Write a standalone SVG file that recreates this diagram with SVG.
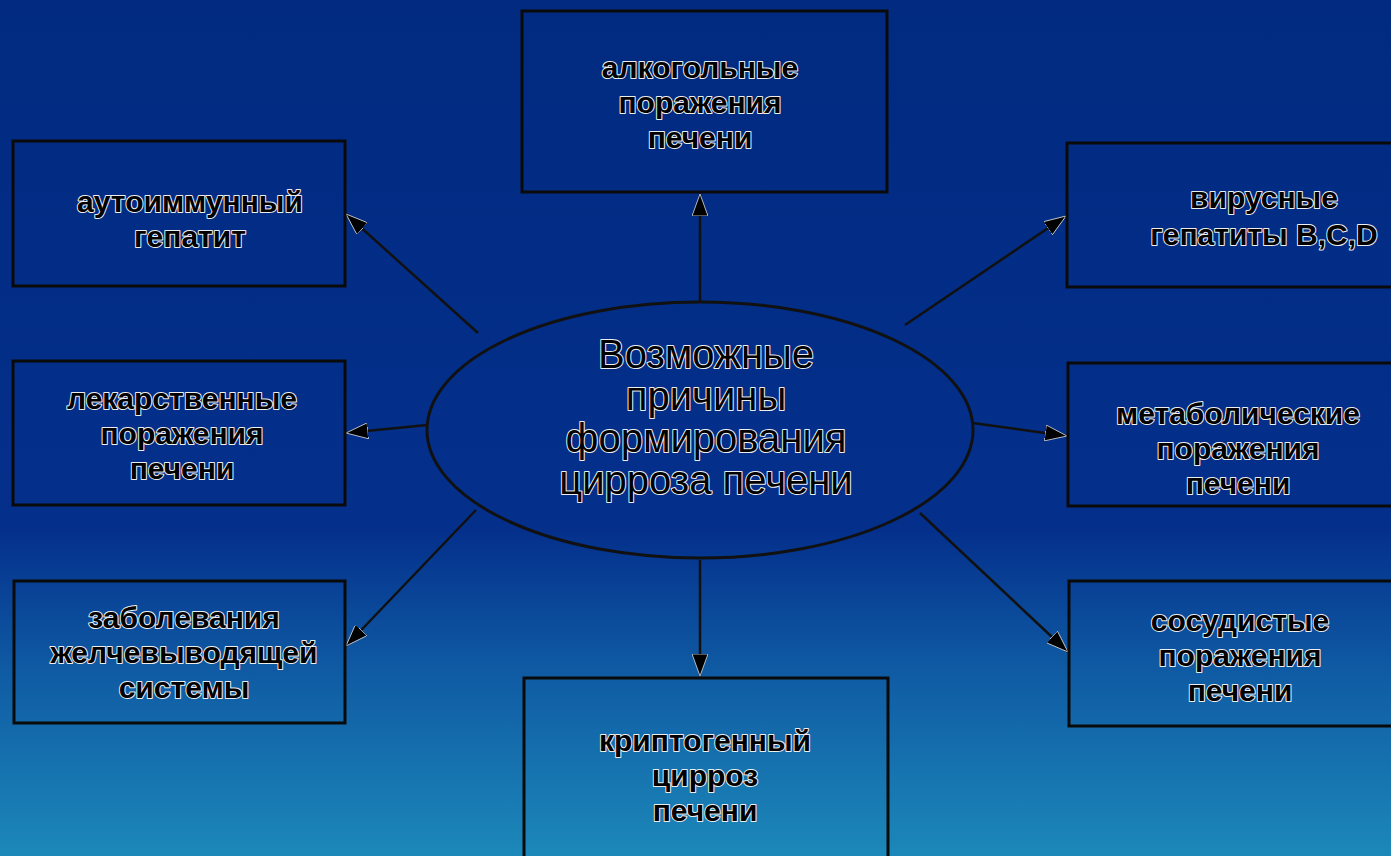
<svg xmlns="http://www.w3.org/2000/svg" width="1391" height="856" viewBox="0 0 1391 856">
<defs>
<linearGradient id="bg" x1="0" y1="0" x2="0" y2="1">
<stop offset="0" stop-color="#012a80"/>
<stop offset="0.62" stop-color="#04308c"/>
<stop offset="0.78" stop-color="#0f5aa3"/>
<stop offset="1" stop-color="#1c88b9"/>
</linearGradient>
<marker id="arr" viewBox="0 0 22 16" refX="22" refY="8" markerWidth="22" markerHeight="16" markerUnits="userSpaceOnUse" orient="auto">
<path d="M0,0 L22,8 L0,16 Z" fill="#000" stroke="#ddd" stroke-width="0.8"/>
</marker>
<style>
.box{fill:none;stroke:#0a0a0a;stroke-width:3}
.ell{fill:none;stroke:#111;stroke-width:3}
.t{font-family:"Liberation Sans",Arial,sans-serif;font-size:30px;font-weight:bold;fill:#000;stroke:#eee;stroke-width:2;paint-order:stroke;stroke-linejoin:round;text-anchor:middle}
.c{font-family:"Liberation Sans",Arial,sans-serif;font-size:40px;fill:#000;stroke:#eee;stroke-width:2;paint-order:stroke;stroke-linejoin:round;text-anchor:middle}
.con{stroke:#111;stroke-width:2.5;fill:none;marker-end:url(#arr)}
</style>
</defs>
<rect x="0" y="0" width="1391" height="856" fill="url(#bg)"/>
<g id="connectors">
<line class="con" x1="700" y1="302" x2="700" y2="194"/>
<line class="con" x1="700" y1="560" x2="700" y2="676"/>
<line class="con" x1="478" y1="333" x2="346" y2="214"/>
<line class="con" x1="427" y1="425" x2="346" y2="433"/>
<line class="con" x1="476" y1="510" x2="346" y2="646"/>
<line class="con" x1="905" y1="325" x2="1066" y2="216"/>
<line class="con" x1="973" y1="423" x2="1067" y2="436"/>
<line class="con" x1="920" y1="513" x2="1068" y2="652"/>
</g>
<g id="center">
<ellipse class="ell" cx="700" cy="430" rx="273" ry="128"/>
<text class="c" x="706" y="368">Возможные</text>
<text class="c" x="706" y="410">причины</text>
<text class="c" x="706" y="452">формирования</text>
<text class="c" x="706" y="494">цирроза печени</text>
</g>
<g id="alcohol">
<rect class="box" x="522" y="11" width="365" height="181"/>
<text class="t" x="700" y="78">алкогольные</text>
<text class="t" x="700" y="113">поражения</text>
<text class="t" x="700" y="148">печени</text>
</g>
<g id="autoimmune">
<rect class="box" x="13" y="141" width="332" height="145"/>
<text class="t" x="190" y="212">аутоиммунный</text>
<text class="t" x="190" y="247">гепатит</text>
</g>
<g id="drug">
<rect class="box" x="13" y="361" width="332" height="144"/>
<text class="t" x="182" y="409">лекарственные</text>
<text class="t" x="182" y="444">поражения</text>
<text class="t" x="182" y="479">печени</text>
</g>
<g id="biliary">
<rect class="box" x="14" y="581" width="331" height="142"/>
<text class="t" x="184" y="628">заболевания</text>
<text class="t" x="184" y="663">желчевыводящей</text>
<text class="t" x="184" y="698">системы</text>
</g>
<g id="viral">
<rect class="box" x="1067" y="143" width="330" height="144"/>
<text class="t" x="1264" y="208">вирусные</text>
<text class="t" x="1264" y="245">гепатиты B,C,D</text>
</g>
<g id="metabolic">
<rect class="box" x="1068" y="363" width="330" height="143"/>
<text class="t" x="1238" y="424">метаболические</text>
<text class="t" x="1238" y="459">поражения</text>
<text class="t" x="1238" y="494">печени</text>
</g>
<g id="vascular">
<rect class="box" x="1069" y="581" width="330" height="145"/>
<text class="t" x="1240" y="631">сосудистые</text>
<text class="t" x="1240" y="666">поражения</text>
<text class="t" x="1240" y="701">печени</text>
</g>
<g id="cryptogenic">
<rect class="box" x="524" y="678" width="364" height="190"/>
<text class="t" x="705" y="751">криптогенный</text>
<text class="t" x="705" y="786">цирроз</text>
<text class="t" x="705" y="821">печени</text>
</g>
</svg>
